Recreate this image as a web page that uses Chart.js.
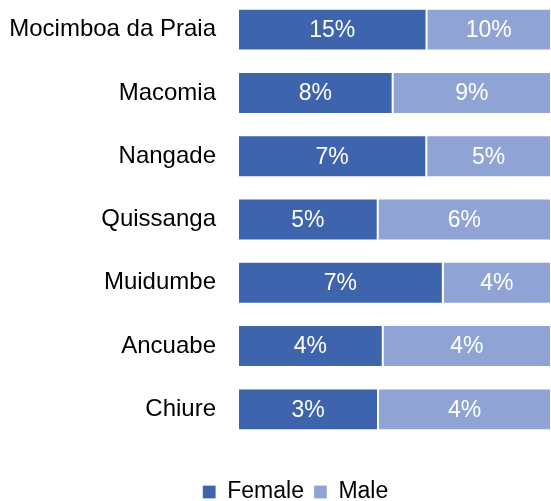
<!DOCTYPE html>
<html>
<head>
<meta charset="utf-8">
<script src="https://cdn.jsdelivr.net/npm/chart.js@4"></script>
<style>
html,body{margin:0;padding:0;background:#fff;overflow:hidden;width:551px;height:501px;}
#wrap{position:absolute;left:0;top:-2px;width:551px;height:520px;}
</style>
</head>
<body>
<div id="wrap"><canvas id="c"></canvas></div>
<script>
const categories = ["Mocimboa da Praia","Macomia","Nangade","Quissanga","Muidumbe","Ancuabe","Chiure"];
const femaleValues = [15.0, 8.4, 7.4, 5.0, 7.2, 3.7, 3.4];
const maleValues = [9.9, 8.6, 4.9, 6.2, 3.8, 4.3, 4.2];
const seriesNames = ["Female","Male"];

const totals = femaleValues.map((v,i)=>v+maleValues[i]);
const femaleShare = femaleValues.map((v,i)=>v/totals[i]*100);
const maleShare = maleValues.map((v,i)=>v/totals[i]*100);
const rawValues = [femaleValues, maleValues];

const FONT = "'Liberation Sans', Arial, sans-serif";

const labelPlugin = {
  id: 'segLabels',
  afterLayout(chart){
    chart.legend.left += 40;
  },
  afterDatasetsDraw(chart){
    const ctx = chart.ctx;
    ctx.save();
    ctx.fillStyle = '#ffffff';
    ctx.font = "23px " + FONT;
    ctx.textAlign = 'center';
    ctx.textBaseline = 'middle';
    chart.data.datasets.forEach((ds, di)=>{
      const meta = chart.getDatasetMeta(di);
      meta.data.forEach((bar, i)=>{
        const cx = (bar.x + bar.base)/2;
        ctx.fillText(Math.round(rawValues[di][i]) + '%', cx, bar.y + 1);
      });
    });
    ctx.restore();
  }
};

new Chart(document.getElementById('c'), {
  type: 'bar',
  data: {
    labels: categories,
    datasets: [
      {label: seriesNames[0], data: femaleShare, backgroundColor: '#3D64AD', borderColor: 'rgba(255,255,255,0.25)', borderWidth: 1, borderSkipped: false, barPercentage: 0.663, categoryPercentage: 1},
      {label: seriesNames[1], data: maleShare, backgroundColor: '#8FA3D4', borderColor: 'rgba(255,255,255,0.25)', borderWidth: 1, borderSkipped: false, barPercentage: 0.663, categoryPercentage: 1}
    ]
  },
  options: {
    indexAxis: 'y',
    responsive: true,
    maintainAspectRatio: false,
    animation: false,
    layout: {padding: {left: 0, right: 0, top: 0, bottom: 4.5}},
    scales: {
      x: {
        stacked: true, min: 0, max: 100, display: true,
        grid: {display: false, drawTicks: false},
        border: {display: false},
        ticks: {display: false},
        afterFit(s){ s.height = 29.5; }
      },
      y: {
        stacked: true,
        grid: {display: false, drawTicks: false},
        border: {display: false},
        ticks: {color: '#000', font: {size: 24, family: FONT}, padding: 22, autoSkip: false},
        afterFit(s){ s.width = 238; s.paddingTop = 0; s.paddingBottom = 0; }
      }
    },
    plugins: {
      legend: {
        position: 'bottom',
        labels: {color: '#000', font: {size: 23, family: FONT}, boxWidth: 13, boxHeight: 13, padding: 10}
      },
      tooltip: {enabled: false}
    }
  },
  plugins: [labelPlugin]
});
</script>
</body>
</html>
